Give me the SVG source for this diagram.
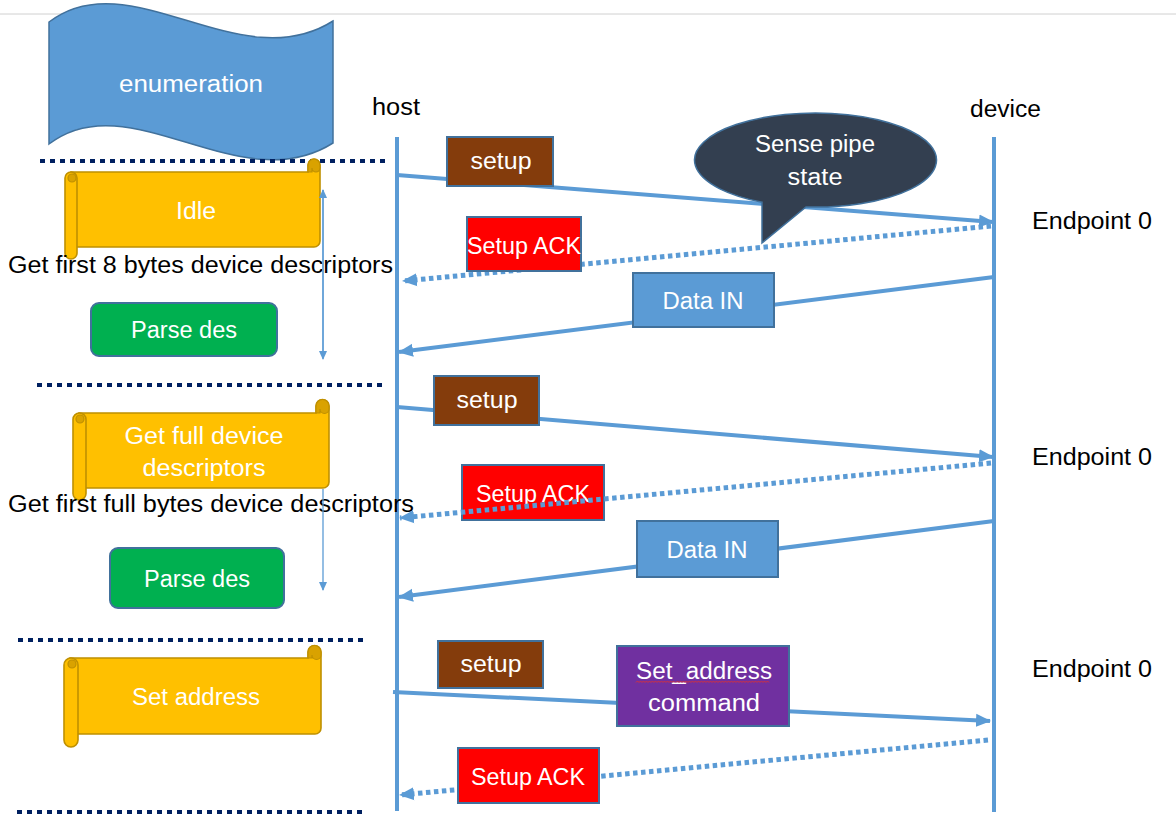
<svg xmlns="http://www.w3.org/2000/svg" width="1176" height="823" viewBox="0 0 1176 823">
<defs>
<style>
text{font-family:'Liberation Sans',Arial,sans-serif;}
.w{fill:#FFFFFF;font-size:23px;text-anchor:middle;}
.k{fill:#000000;font-size:23px;}
.sep{stroke:#002060;stroke-width:4;stroke-dasharray:5 5;fill:none;}
.life{stroke:#5B9BD5;stroke-width:4;fill:none;}
.msg{stroke:#5B9BD5;stroke-width:4;fill:none;marker-end:url(#ah);}
.dot{stroke:#5B9BD5;stroke-width:5;stroke-dasharray:4.5 3.5;fill:none;marker-end:url(#ah);}
.thin{stroke:#5B9BD5;stroke-width:1.3;fill:none;}
.box{stroke:#41719C;stroke-width:2;}
.scroll{fill:#FFC000;stroke:#BF9000;stroke-width:1.6;}
.curl{fill:#D9A200;stroke:#BF9000;stroke-width:1.2;}
</style>
<marker id="ah" markerWidth="15" markerHeight="15" refX="14" refY="7.5" orient="auto" markerUnits="userSpaceOnUse"><path d="M0,1 L15,7.5 L0,14 Z" fill="#5B9BD5"/></marker>
<marker id="sa" markerWidth="9" markerHeight="9" refX="8" refY="4.5" orient="auto" markerUnits="userSpaceOnUse"><path d="M0,0.5 L9,4.5 L0,8.5 Z" fill="#5B9BD5"/></marker>
</defs>
<rect x="0" y="0" width="1176" height="823" fill="#FFFFFF"/>
<line x1="0" y1="14" x2="1176" y2="14" stroke="#D0D0D0" stroke-width="1"/>

<g id="enumeration">
<path d="M49,22 C130,-40 240,80 333,21 L333,143 C240,202 130,82 49,144 Z" fill="#5B9BD5" stroke="#41719C" stroke-width="1.5"/>
<text class="w" x="191" y="92" font-size="24" textLength="144" lengthAdjust="spacingAndGlyphs">enumeration</text>
</g>

<g id="separators">
<line class="sep" x1="40" y1="161" x2="385" y2="161"/>
<line class="sep" x1="37" y1="385" x2="383" y2="385"/>
<line class="sep" x1="18" y1="640" x2="363" y2="640"/>
<line class="sep" x1="17" y1="812" x2="362" y2="812"/>
</g>

<g id="host">
<text class="k" x="372" y="115" font-size="22" textLength="48" lengthAdjust="spacingAndGlyphs">host</text>
<line class="life" x1="397" y1="137" x2="397" y2="811"/>
</g>
<g id="device">
<text class="k" x="970" y="117" textLength="71" lengthAdjust="spacingAndGlyphs">device</text>
<line class="life" x1="994" y1="137" x2="994" y2="812"/>
</g>
<g id="endpoints">
<text class="k" x="1032" y="229" textLength="120" lengthAdjust="spacingAndGlyphs">Endpoint 0</text>
<text class="k" x="1032" y="465" textLength="120" lengthAdjust="spacingAndGlyphs">Endpoint 0</text>
<text class="k" x="1032" y="677" textLength="120" lengthAdjust="spacingAndGlyphs">Endpoint 0</text>
</g>

<g id="idle">
<path class="scroll" d="M71,172 H308 V165 A6,6 0 0 1 320,165 V241 A6,6 0 0 1 314,247 H71 Z"/>
<path class="curl" d="M308,172 V165 A6,6 0 0 1 320,165 V168 A4,4 0 0 1 312,168 V172 Z"/>
<rect class="scroll" x="65" y="172" width="12" height="87" rx="6"/>
<circle class="curl" cx="72" cy="178" r="4"/>
<text class="w" x="196" y="219" font-size="24" textLength="40" lengthAdjust="spacingAndGlyphs">Idle</text>
</g>
<g id="label-first8">
<text class="k" x="8" y="273" textLength="385" lengthAdjust="spacingAndGlyphs">Get first 8 bytes device descriptors</text>
</g>
<g id="parse1">
<rect class="box" x="91" y="303" width="186" height="53" rx="8" fill="#00B050"/>
<text class="w" x="184" y="338" textLength="106" lengthAdjust="spacingAndGlyphs">Parse des</text>
</g>

<g id="getfull">
<path class="scroll" d="M79,413 H316 V406 A6.5,6.5 0 0 1 329,406 V482 A6,6 0 0 1 323,488 H79 Z"/>
<path class="curl" d="M316,413 V406 A6.5,6.5 0 0 1 329,406 V409 A4.5,4.5 0 0 1 320,409 V413 Z"/>
<rect class="scroll" x="73" y="413" width="13" height="87" rx="6.5"/>
<circle class="curl" cx="80" cy="419" r="4"/>
<text class="w" x="204" y="444" textLength="159" lengthAdjust="spacingAndGlyphs">Get full device</text>
<text class="w" x="204" y="476" textLength="123" lengthAdjust="spacingAndGlyphs">descriptors</text>
</g>
<g id="label-firstfull">
<text class="k" x="8" y="512" textLength="406" lengthAdjust="spacingAndGlyphs">Get first full bytes device descriptors</text>
</g>
<g id="parse2">
<rect class="box" x="110" y="548" width="174" height="60" rx="8" fill="#00B050"/>
<text class="w" x="197" y="587" textLength="106" lengthAdjust="spacingAndGlyphs">Parse des</text>
</g>

<g id="setaddress">
<path class="scroll" d="M70,658 H308 V652 A6.5,6.5 0 0 1 321,652 V728 A6,6 0 0 1 315,734 H70 Z"/>
<path class="curl" d="M308,658 V652 A6.5,6.5 0 0 1 321,652 V655 A4.5,4.5 0 0 1 312,655 V658 Z"/>
<rect class="scroll" x="64" y="658" width="14" height="89" rx="7"/>
<circle class="curl" cx="72" cy="664" r="4"/>
<text class="w" x="196" y="705" textLength="128" lengthAdjust="spacingAndGlyphs">Set address</text>
</g>

<g id="setupack2">
<rect class="box" x="462" y="465" width="142" height="55" fill="#FF0000"/>
<text class="w" x="533" y="502" textLength="114" lengthAdjust="spacingAndGlyphs">Setup ACK</text>
</g>

<g id="connectors">
<line class="msg" x1="397" y1="175" x2="993" y2="222"/>
<line class="dot" x1="991" y1="226" x2="403" y2="281"/>
<line class="msg" x1="994" y1="277" x2="399" y2="352"/>
<line class="thin" x1="323" y1="358" x2="323" y2="190" marker-end="url(#sa)"/>
<line class="thin" x1="323" y1="190" x2="323" y2="359" marker-end="url(#sa)"/>
<line class="msg" x1="397" y1="407" x2="993" y2="457"/>
<line class="dot" x1="991" y1="463" x2="400" y2="518"/>
<line class="msg" x1="994" y1="521" x2="399" y2="597"/>
<line class="thin" x1="323" y1="489" x2="323" y2="590" marker-end="url(#sa)"/>
<line class="msg" x1="393" y1="692" x2="990" y2="721"/>
<line class="dot" x1="988" y1="740" x2="400" y2="795"/>
</g>

<g id="setup1">
<rect class="box" x="447" y="137" width="106" height="49" fill="#843C0C"/>
<text class="w" x="501" y="169" textLength="61" lengthAdjust="spacingAndGlyphs">setup</text>
</g>
<g id="sense">
<path d="M762,202.2 L762,243 L806,206.9 A121,47 0 1 0 762,202.2 Z" fill="#333F50" stroke="#41719C" stroke-width="1.5"/>
<text class="w" x="815" y="152" textLength="120" lengthAdjust="spacingAndGlyphs">Sense pipe</text>
<text class="w" x="815" y="185" textLength="55" lengthAdjust="spacingAndGlyphs">state</text>
</g>
<g id="setupack1">
<rect class="box" x="467" y="217" width="114" height="54" fill="#FF0000"/>
<text class="w" x="524" y="254" textLength="114" lengthAdjust="spacingAndGlyphs">Setup ACK</text>
</g>
<g id="datain1">
<rect class="box" x="633" y="273" width="141" height="54" fill="#5B9BD5"/>
<text class="w" x="703" y="309" textLength="81" lengthAdjust="spacingAndGlyphs">Data IN</text>
</g>

<g id="setup2">
<rect class="box" x="434" y="376" width="105" height="49" fill="#843C0C"/>
<text class="w" x="487" y="408" textLength="61" lengthAdjust="spacingAndGlyphs">setup</text>
</g>
<g id="datain2">
<rect class="box" x="637" y="521" width="141" height="56" fill="#5B9BD5"/>
<text class="w" x="707" y="558" textLength="81" lengthAdjust="spacingAndGlyphs">Data IN</text>
</g>

<g id="setup3">
<rect class="box" x="438" y="641" width="105" height="47" fill="#843C0C"/>
<text class="w" x="491" y="672" textLength="61" lengthAdjust="spacingAndGlyphs">setup</text>
</g>
<g id="setaddresscmd">
<rect class="box" x="617" y="646" width="172" height="80" fill="#7030A0"/>
<text class="w" x="704" y="679" textLength="136" lengthAdjust="spacingAndGlyphs">Set_address</text>
<path d="M636,682.5 l1.5,-1.5 l1.5,1.5 l1.5,-1.5 l1.5,1.5 l1.5,-1.5 l1.5,1.5 l1.5,-1.5 l1.5,1.5 l1.5,-1.5 l1.5,1.5 l1.5,-1.5 l1.5,1.5 l1.5,-1.5 l1.5,1.5 l1.5,-1.5 l1.5,1.5 l1.5,-1.5 l1.5,1.5 l1.5,-1.5 l1.5,1.5 l1.5,-1.5 l1.5,1.5 l1.5,-1.5 l1.5,1.5 l1.5,-1.5 l1.5,1.5 M676,682.5 l1.5,-1.5 l1.5,1.5 l1.5,-1.5 l1.5,1.5 l1.5,-1.5 l1.5,1.5 l1.5,-1.5 l1.5,1.5 l1.5,-1.5 l1.5,1.5 l1.5,-1.5 l1.5,1.5 l1.5,-1.5 l1.5,1.5 l1.5,-1.5 l1.5,1.5 l1.5,-1.5 l1.5,1.5 l1.5,-1.5 l1.5,1.5 l1.5,-1.5 l1.5,1.5 l1.5,-1.5 l1.5,1.5 l1.5,-1.5 l1.5,1.5 l1.5,-1.5 l1.5,1.5 l1.5,-1.5 l1.5,1.5 l1.5,-1.5 l1.5,1.5 l1.5,-1.5 l1.5,1.5 l1.5,-1.5 l1.5,1.5 l1.5,-1.5 l1.5,1.5 l1.5,-1.5 l1.5,1.5 l1.5,-1.5 l1.5,1.5 l1.5,-1.5 l1.5,1.5 l1.5,-1.5 l1.5,1.5 l1.5,-1.5 l1.5,1.5 l1.5,-1.5 l1.5,1.5 l1.5,-1.5 l1.5,1.5 l1.5,-1.5 l1.5,1.5 l1.5,-1.5 l1.5,1.5 l1.5,-1.5 l1.5,1.5 l1.5,-1.5 l1.5,1.5 l1.5,-1.5 l1.5,1.5" fill="none" stroke="#E03030" stroke-width="0.9"/>
<text class="w" x="704" y="711" textLength="112" lengthAdjust="spacingAndGlyphs">command</text>
</g>
<g id="setupack3">
<rect class="box" x="458" y="748" width="141" height="55" fill="#FF0000"/>
<text class="w" x="528" y="785" textLength="114" lengthAdjust="spacingAndGlyphs">Setup ACK</text>
</g>
</svg>
